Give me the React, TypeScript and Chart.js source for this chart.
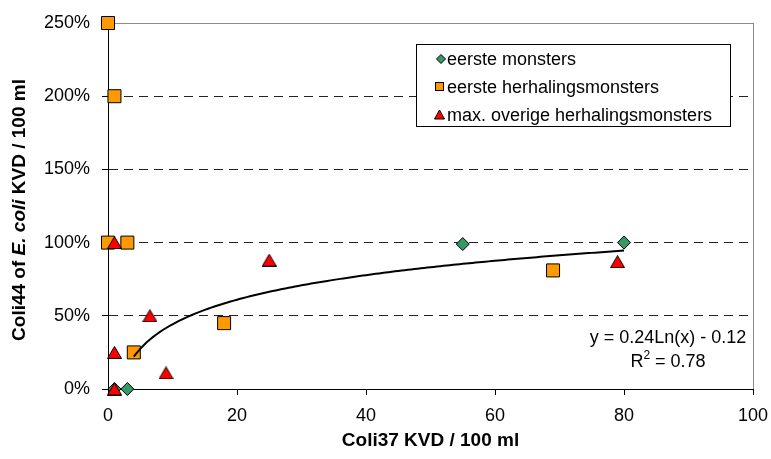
import React, { useEffect, useRef } from 'react';
import { Chart, registerables } from 'chart.js';

Chart.register(...registerables);

// ---- data ----
const SERIES_LABELS = ['eerste monsters', 'eerste herhalingsmonsters', 'max. overige herhalingsmonsters'];
const EERSTE_X = [1, 3, 55, 80];
const EERSTE_Y = [0, 0, 0.99, 1.0];
const HERH_X = [0, 1, 0, 3, 4, 18, 69];
const HERH_Y = [2.5, 2.0, 1.0, 1.0, 0.25, 0.45, 0.81];
const MAX_X = [1, 1, 1, 6.5, 9, 25, 79];
const MAX_Y = [1.0, 0.25, 0, 0.5, 0.11, 0.88, 0.87];

// logarithmic trendline y = A ln(x) + B, drawn over the fitted x range
const TREND_A = 0.242;
const TREND_B = -0.115;
const TREND_X_MIN = 4;
const TREND_X_MAX = 80;
const EQUATION_LABEL = 'y = 0.24Ln(x) - 0.12';
const R2_VALUE_LABEL = ' = 0.78';

const X_MIN = 0;
const X_MAX = 100;
const X_STEP = 20;
const Y_MIN = 0;
const Y_MAX = 2.5;
const Y_STEP = 0.5;

const X_TITLE = 'Coli37 KVD / 100 ml';
const Y_TITLE_PARTS: [string, boolean][] = [
  ['Coli44 of ', false],
  ['E. coli', true],
  [' KVD / 100 ml', false],
];

const FONT = '"Liberation Sans", Arial, sans-serif';
const GREEN = '#339966';
const ORANGE = '#FF9900';
const RED = '#FF0000';

function makeTriangle(fill: string, w: number, h: number) {
  const c = document.createElement('canvas');
  c.width = w + 1;
  c.height = h + 1;
  const g = c.getContext('2d')!;
  g.beginPath();
  g.moveTo((w + 1) / 2, 0.5);
  g.lineTo(w + 0.5, h + 0.5);
  g.lineTo(0.5, h + 0.5);
  g.closePath();
  g.fillStyle = fill;
  g.fill();
  g.strokeStyle = '#000';
  g.lineWidth = 1;
  g.stroke();
  return c;
}

const zip = (xs: number[], ys: number[]) => xs.map((x, i) => ({ x, y: ys[i] }));

export default function App() {
  const ref = useRef<HTMLCanvasElement | null>(null);

  useEffect(() => {
    const canvas = ref.current;
    if (!canvas) return;

    const trend: { x: number; y: number }[] = [];
    for (let x = TREND_X_MIN; x <= TREND_X_MAX + 1e-9; x += 0.5) {
      trend.push({ x, y: TREND_A * Math.log(x) + TREND_B });
    }

    const triImg = makeTriangle(RED, 14, 12);

    const decor = {
      id: 'decor',
      beforeDatasetsDraw(chart: any) {
        const { ctx, chartArea: ca } = chart;
        ctx.save();
        ctx.strokeStyle = '#8c8c8c';
        ctx.lineWidth = 1;
        ctx.beginPath();
        ctx.moveTo(ca.left, Math.floor(ca.top) + 0.5);
        ctx.lineTo(ca.right + 1, Math.floor(ca.top) + 0.5);
        ctx.moveTo(Math.floor(ca.right) + 0.5, ca.top);
        ctx.lineTo(Math.floor(ca.right) + 0.5, ca.bottom);
        ctx.stroke();
        ctx.restore();
      },
      afterDraw(chart: any) {
        const { ctx, chartArea: ca } = chart;
        ctx.save();
        ctx.fillStyle = '#000';

        // equation
        ctx.font = `18px ${FONT}`;
        ctx.textBaseline = 'middle';
        ctx.textAlign = 'center';
        const eqX = ca.right - 85;
        ctx.fillText(EQUATION_LABEL, eqX, 338);
        const rW = ctx.measureText('R').width;
        const vW = ctx.measureText(R2_VALUE_LABEL).width;
        ctx.font = `12px ${FONT}`;
        const sW = ctx.measureText('2').width;
        const total = rW + sW + vW;
        const x0 = eqX - total / 2;
        ctx.textAlign = 'left';
        ctx.font = `18px ${FONT}`;
        ctx.fillText('R', x0, 362);
        ctx.font = `12px ${FONT}`;
        ctx.fillText('2', x0 + rW, 356);
        ctx.font = `18px ${FONT}`;
        ctx.fillText(R2_VALUE_LABEL, x0 + rW + sW, 362);

        // legend
        const lx = 416.5, ly = 44.5, lw = 314, lh = 82;
        ctx.fillStyle = '#fff';
        ctx.fillRect(lx, ly, lw, lh);
        ctx.strokeStyle = '#000';
        ctx.lineWidth = 1;
        ctx.strokeRect(lx, ly, lw, lh);
        const rows = [59, 87, 115];
        // diamond
        ctx.beginPath();
        ctx.moveTo(441, rows[0] - 4.5);
        ctx.lineTo(445.5, rows[0]);
        ctx.lineTo(441, rows[0] + 4.5);
        ctx.lineTo(436.5, rows[0]);
        ctx.closePath();
        ctx.fillStyle = GREEN;
        ctx.fill();
        ctx.stroke();
        // square
        ctx.fillStyle = ORANGE;
        ctx.fillRect(435.5, rows[1] - 4.5, 8, 8);
        ctx.strokeRect(435.5, rows[1] - 4.5, 8, 8);
        // triangle
        ctx.beginPath();
        ctx.moveTo(439.5, rows[2] - 5);
        ctx.lineTo(444.5, rows[2] + 4);
        ctx.lineTo(434.5, rows[2] + 4);
        ctx.closePath();
        ctx.fillStyle = RED;
        ctx.fill();
        ctx.stroke();
        ctx.fillStyle = '#000';
        ctx.font = `18px ${FONT}`;
        ctx.textAlign = 'left';
        ctx.textBaseline = 'middle';
        SERIES_LABELS.forEach((t, i) => ctx.fillText(t, 447, rows[i] + 1));

        // x title
        ctx.font = `bold 19px ${FONT}`;
        ctx.textAlign = 'center';
        ctx.fillText(X_TITLE, (ca.left + ca.right) / 2, 441);

        // y title (rotated, with italic part)
        ctx.translate(20, 210);
        ctx.rotate(-Math.PI / 2);
        const fonts = Y_TITLE_PARTS.map(([, it]) => (it ? `italic bold 19px ${FONT}` : `bold 19px ${FONT}`));
        const widths = Y_TITLE_PARTS.map(([t], i) => {
          ctx.font = fonts[i];
          return ctx.measureText(t).width;
        });
        const tw = widths.reduce((a, b) => a + b, 0);
        let px = -tw / 2;
        ctx.textAlign = 'left';
        Y_TITLE_PARTS.forEach(([t], i) => {
          ctx.font = fonts[i];
          ctx.fillText(t, px, 0);
          px += widths[i];
        });
        ctx.restore();
      },
    };

    const chart = new Chart(canvas, {
      type: 'scatter',
      data: {
        datasets: [
          {
            label: 'trend',
            data: trend,
            showLine: true,
            borderColor: '#000',
            borderWidth: 2,
            pointRadius: 0,
            order: 0,
            clip: false,
          } as any,
          {
            label: SERIES_LABELS[2],
            data: zip(MAX_X, MAX_Y),
            pointStyle: triImg,
            pointRadius: 7,
            order: 1,
            clip: false,
          },
          {
            label: SERIES_LABELS[1],
            data: zip(HERH_X, HERH_Y),
            pointStyle: 'rect',
            pointRadius: 9.2,
            backgroundColor: ORANGE,
            borderColor: '#000',
            borderWidth: 1,
            order: 2,
            clip: false,
          },
          {
            label: SERIES_LABELS[0],
            data: zip(EERSTE_X, EERSTE_Y),
            pointStyle: 'rectRot',
            pointRadius: 6.5,
            backgroundColor: GREEN,
            borderColor: '#000',
            borderWidth: 1,
            order: 3,
            clip: false,
          },
        ],
      },
      options: {
        responsive: false,
        animation: false,
        devicePixelRatio: 1,
        layout: { padding: { top: 23, right: 18, left: 0, bottom: 0 } },
        plugins: {
          legend: { display: false },
          tooltip: { enabled: false },
          title: { display: false },
        },
        scales: {
          x: {
            type: 'linear',
            min: X_MIN,
            max: X_MAX,
            afterFit: (s: any) => {
              s.height = 70;
              s.paddingLeft = 0;
              s.paddingRight = 0;
            },
            ticks: {
              stepSize: X_STEP,
              color: '#000',
              font: { family: FONT, size: 18 },
              padding: 10,
            },
            grid: {
              drawOnChartArea: false,
              drawTicks: true,
              tickLength: 6,
              tickColor: '#000',
            },
            border: { display: true, color: '#000', width: 1 },
          },
          y: {
            type: 'linear',
            min: Y_MIN,
            max: Y_MAX,
            afterFit: (s: any) => {
              s.width = 108;
              s.paddingTop = 0;
              s.paddingBottom = 0;
            },
            ticks: {
              stepSize: Y_STEP,
              color: '#000',
              font: { family: FONT, size: 18 },
              padding: 12,
              callback: (v: any) => `${Math.round(Number(v) * 100)}%`,
            },
            grid: {
              drawOnChartArea: true,
              drawTicks: true,
              tickLength: 6,
              tickColor: '#000',
              tickBorderDash: [],
              lineWidth: 1,
              color: (c: any) =>
                c.tick && c.tick.value === 0 ? 'rgba(0,0,0,0)' : c.tick && c.tick.value >= Y_MAX ? '#666' : '#222',
            },
            border: { display: true, color: '#000', width: 1, dash: [9, 6] },
          },
        },
      },
      plugins: [decor],
    });

    return () => chart.destroy();
  }, []);

  return (
    <div style={{ position: 'absolute', left: 0, top: 0, width: 771, height: 459, background: '#fff' }}>
      <canvas ref={ref} width={771} height={459} style={{ display: 'block' }} />
    </div>
  );
}
